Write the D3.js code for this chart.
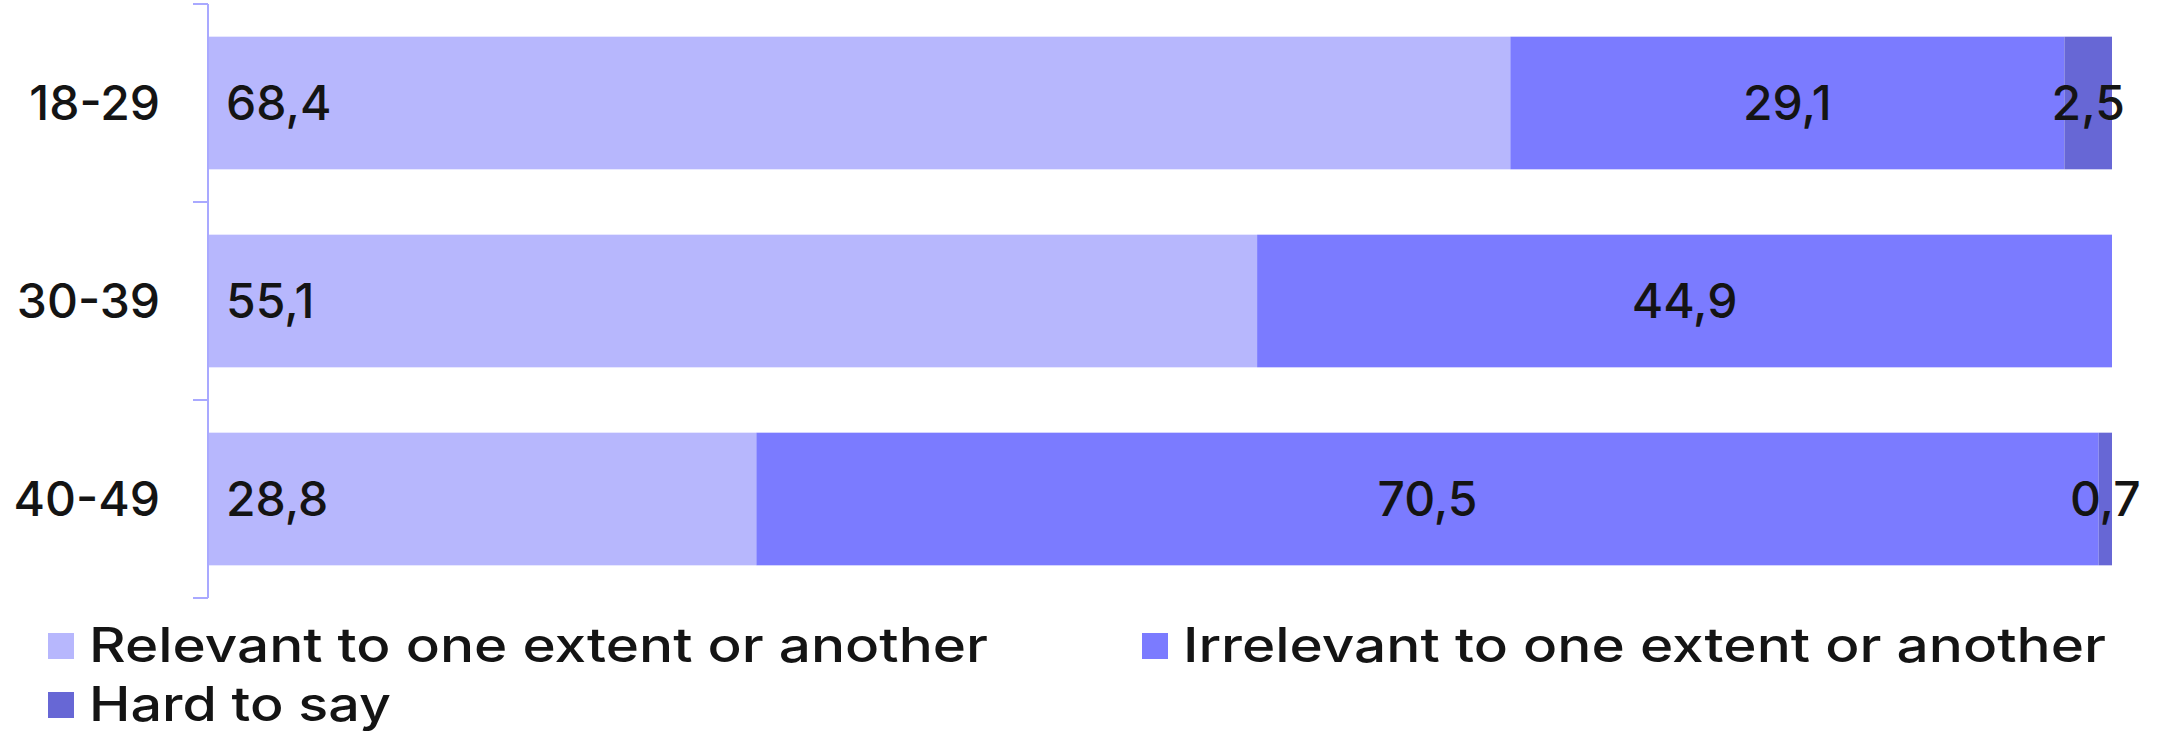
<!DOCTYPE html>
<html>
<head>
<meta charset="utf-8">
<script src="https://cdn.jsdelivr.net/npm/d3@7"></script>
<style>
  html, body { margin: 0; padding: 0; background: #fff; }
  svg { display: block; }
  text { font-family: Inter, "Noto Sans", sans-serif; font-weight: 500; fill: #141414; }
</style>
</head>
<body>
<svg id="chart" width="2157" height="732"></svg>
<script>
// Age groups and answer shares (%)
const categories = ["18-29", "30-39", "40-49"];
const seriesNames = [
  "Relevant to one extent or another",
  "Irrelevant to one extent or another",
  "Hard to say"
];
const relevant   = [68.4, 55.1, 28.8];
const irrelevant = [29.1, 44.9, 70.5];
const hardToSay  = [2.5, 0, 0.7];
const seriesColors = ["#B7B7FD", "#7B7BFF", "#6767D5"];

const svg = d3.select("#chart");
const fontSize = 48;

const rows = categories.map((c, i) => ({
  cat: c, v0: relevant[i], v1: irrelevant[i], v2: hardToSay[i]
}));
const stack = d3.stack().keys(["v0", "v1", "v2"])(rows);

const x = d3.scaleLinear().domain([0, 100]).range([208, 2112]);
const y = d3.scaleBand().domain(categories).range([4, 598]).paddingInner(0.33).paddingOuter(0.165);

// Stacked segments
const layer = svg.append("g").selectAll("g")
  .data(stack).join("g")
  .attr("fill", (d, i) => seriesColors[i]);

layer.selectAll("rect")
  .data(d => d.filter(s => s[1] - s[0] > 0))
  .join("rect")
  .attr("x", d => x(d[0]))
  .attr("y", d => y(d.data.cat))
  .attr("width", d => x(d[1]) - x(d[0]))
  .attr("height", y.bandwidth());

// Value labels: first series at the inner base, others centred
const fmt = v => String(v).replace(".", ",");
stack.forEach((s, si) => {
  svg.append("g").selectAll("text")
    .data(s.filter(d => d[1] - d[0] > 0))
    .join("text")
    .attr("x", d => si === 0 ? x(d[0]) + 18 : (x(d[0]) + x(d[1])) / 2)
    .attr("y", d => y(d.data.cat) + y.bandwidth() / 2)
    .attr("dy", "0.36em")
    .attr("text-anchor", si === 0 ? "start" : "middle")
    .style("font-size", fontSize + "px")
    .text(d => fmt(+(d[1] - d[0]).toFixed(1)));
});

// Category axis with ticks between groups
const axisG = svg.append("g");
const step = y.step();
const edges = d3.range(categories.length + 1).map(i => 4 + i * step);
axisG.append("line")
  .attr("x1", 208).attr("x2", 208)
  .attr("y1", edges[0]).attr("y2", edges[edges.length - 1])
  .attr("stroke", "#A9A9FF").attr("stroke-width", 2);
axisG.selectAll("line.tick").data(edges).join("line")
  .attr("class", "tick")
  .attr("x1", 193).attr("x2", 208)
  .attr("y1", d => d).attr("y2", d => d)
  .attr("stroke", "#A9A9FF").attr("stroke-width", 2);
axisG.selectAll("text").data(categories).join("text")
  .attr("x", 160)
  .attr("y", d => y(d) + y.bandwidth() / 2)
  .attr("dy", "0.36em")
  .attr("text-anchor", "end")
  .style("font-size", fontSize + "px")
  .text(d => d);

// Legend
const legendPos = [[48, 645], [1142, 645], [48, 704]];
const legendWidths = [899, 923, 302];
const legend = svg.append("g");
seriesNames.forEach((name, i) => {
  const [lx, ly] = legendPos[i];
  legend.append("rect")
    .attr("x", lx).attr("y", ly - 12)
    .attr("width", 26).attr("height", 26)
    .attr("fill", seriesColors[i]);
  legend.append("text")
    .attr("x", lx + 41).attr("y", ly)
    .attr("dy", "0.36em")
    .attr("textLength", legendWidths[i])
    .attr("lengthAdjust", "spacingAndGlyphs")
    .style("font-size", fontSize + "px")
    .text(name);
});
</script>
</body>
</html>
